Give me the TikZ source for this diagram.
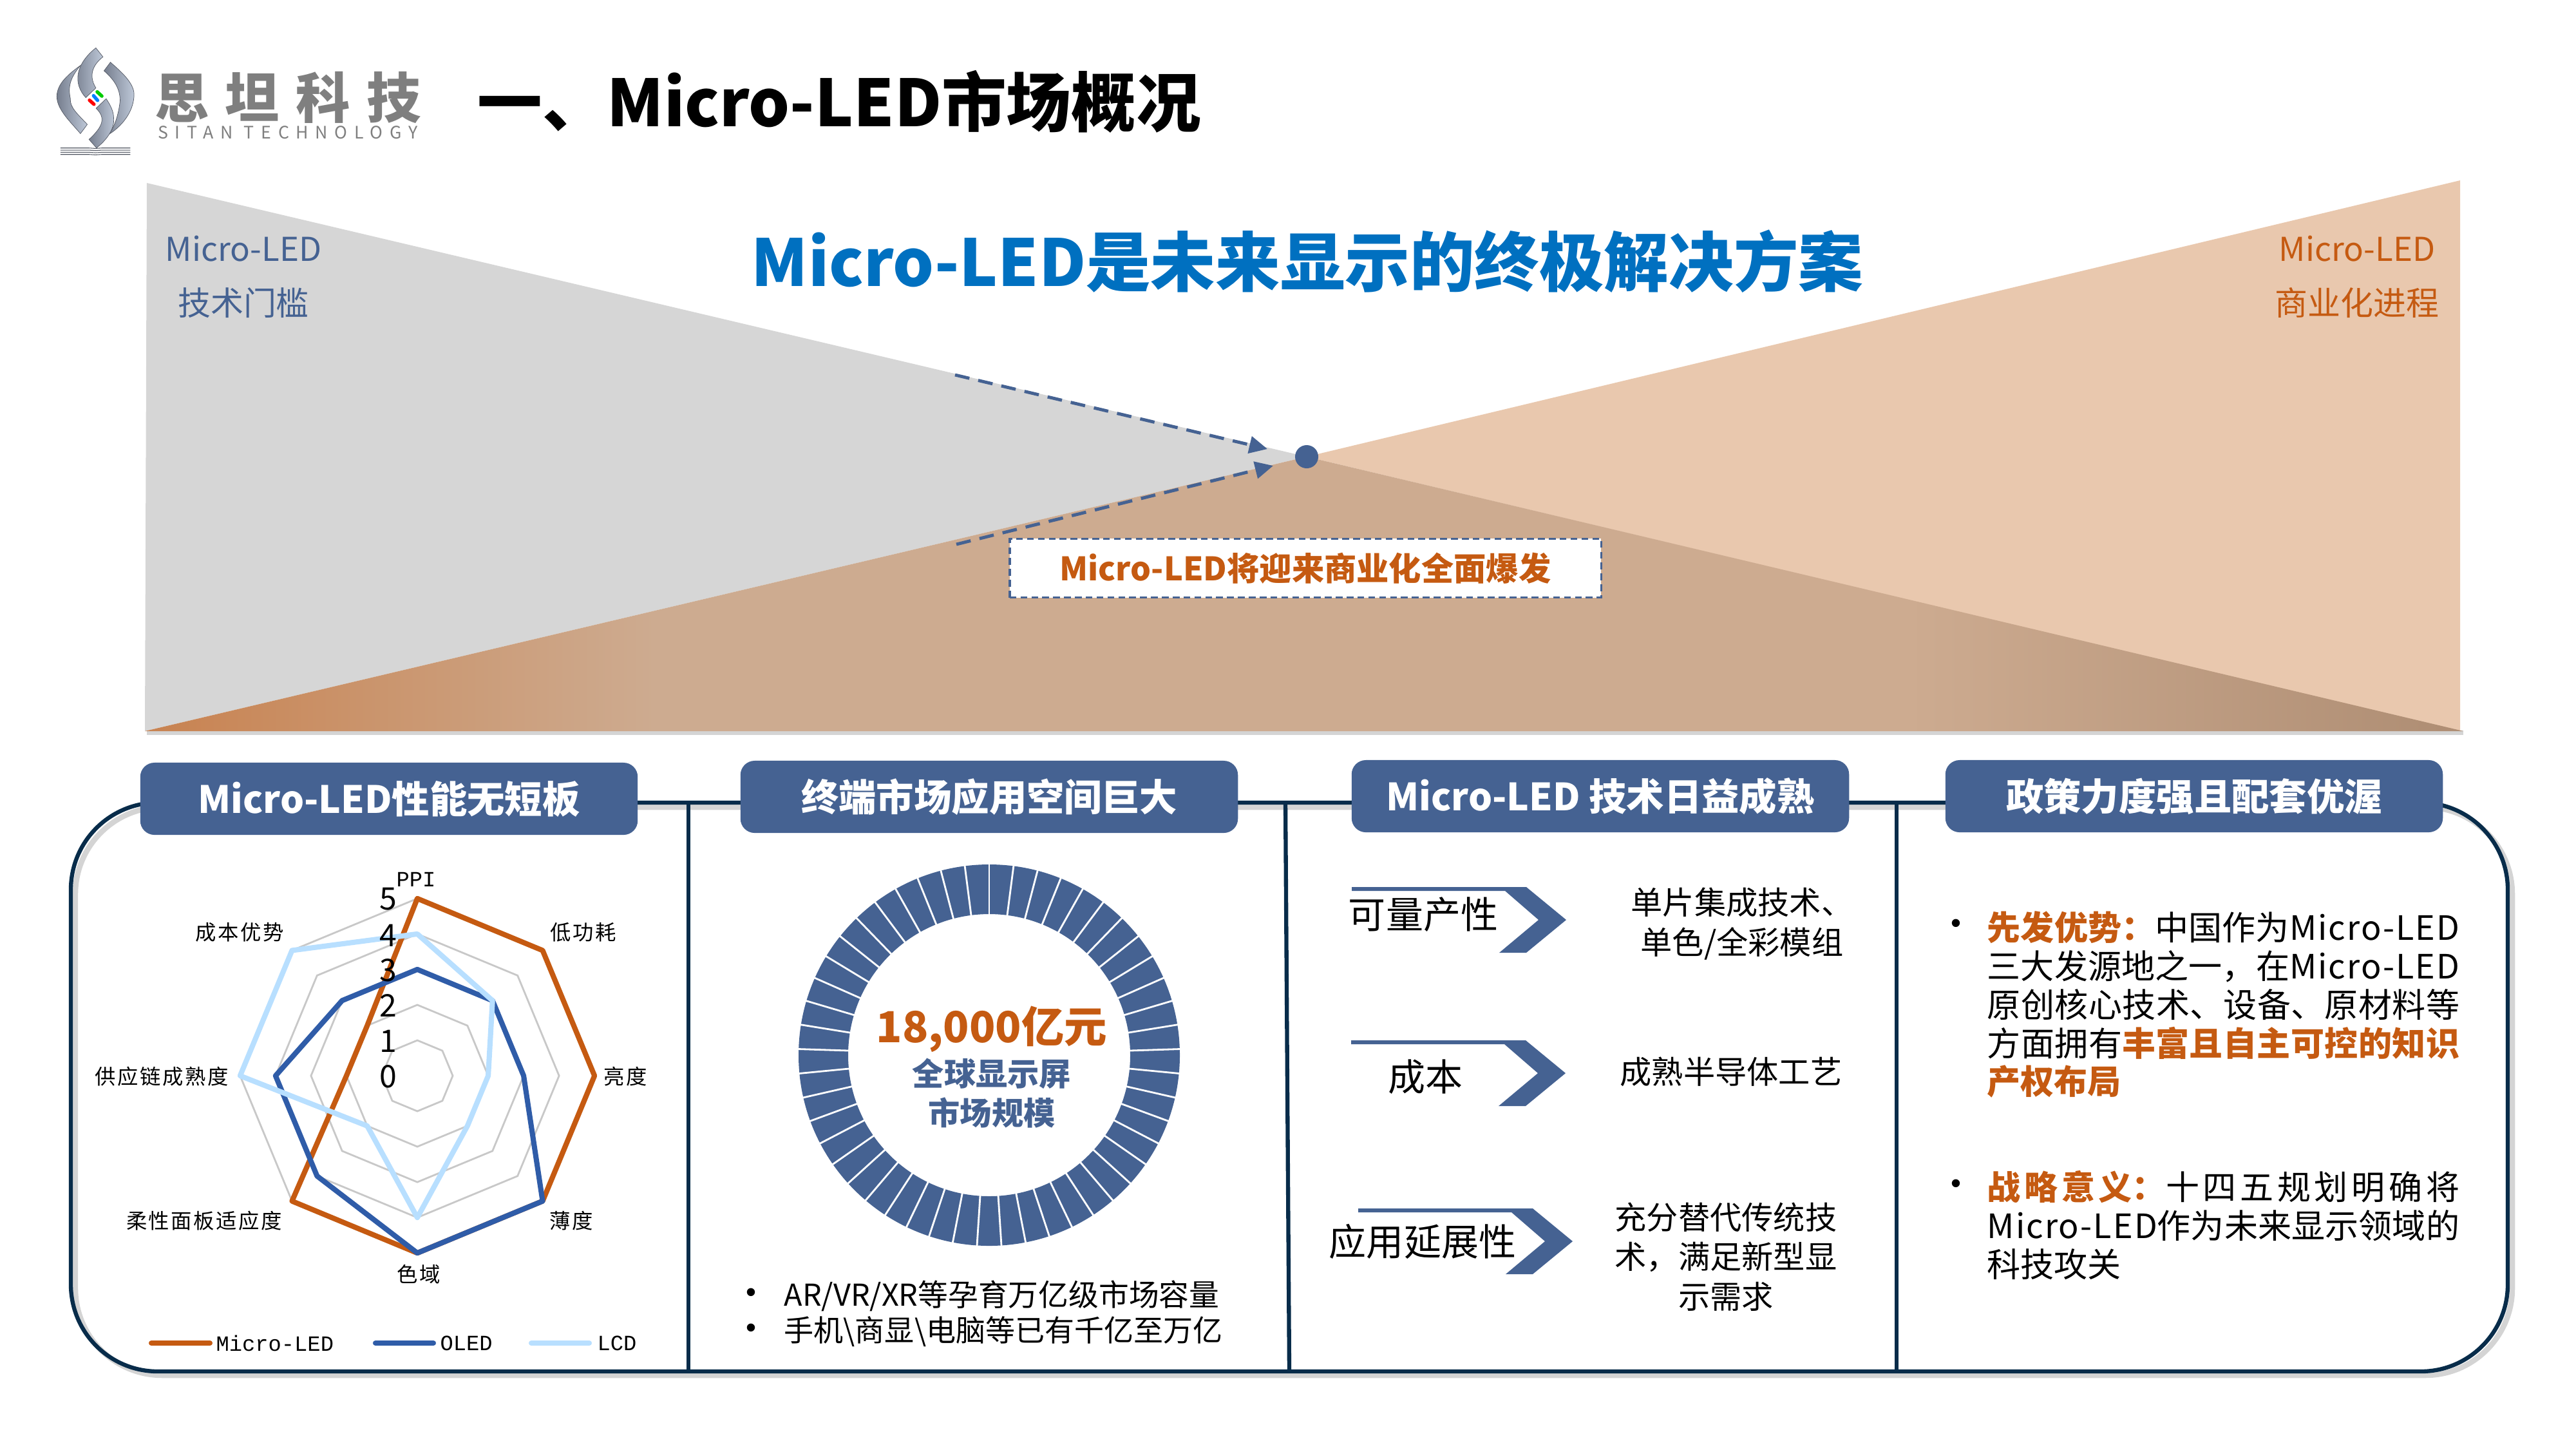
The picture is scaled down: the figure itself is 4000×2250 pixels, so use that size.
\documentclass[tikz,border=0pt]{standalone}
\usepackage{fontspec}
\usepackage{tikz}
\usetikzlibrary{arrows.meta}
\setmainfont{Noto Sans CJK SC}
\newfontfamily\legendfont{Liberation Mono}
\newfontfamily\dotfont{Liberation Sans}
\definecolor{colorhead}  {RGB}{69 ,98 ,146}
\definecolor{colorframe} {RGB}{8  ,44 ,74 }
\definecolor{colorshadow}{RGB}{212,212,212}
\definecolor{colororange}{RGB}{197,90 ,17 }
\definecolor{colorblue}  {RGB}{0  ,112,192}
\definecolor{coloroled}  {RGB}{47 ,92 ,168}
\definecolor{colorlcd}   {RGB}{184,223,255}
\definecolor{colorgrid}  {RGB}{200,200,200}
\definecolor{colorgray}  {RGB}{214,214,214}
\definecolor{colorpeach} {RGB}{233,200,174}
\definecolor{colorlogo}  {RGB}{127,127,127}
\definecolor{ribbonlight}{RGB}{190,200,216}
\definecolor{ribbondark} {RGB}{118,126,142}
\definecolor{basea}{RGB}{200,130,80}
\definecolor{baseb}{RGB}{205,171,144}
\definecolor{basec}{RGB}{174,141,115}
\pgfdeclarehorizontalshading{basefade}{100bp}{color(0bp)=(basea); color(25bp)=(basea); color(36bp)=(baseb); color(63bp)=(baseb); color(75bp)=(basec); color(100bp)=(basec)}
\begin{document}
\begin{tikzpicture}[
    x=0.01cm, y=-0.01cm,
    every node/.style={inner sep=0pt},
    headbox/.style={fill=colorhead,rounded corners=0.22cm,minimum width=7.72cm,minimum height=1.12cm,text=white,font={\fontsize{16.6}{20}\selectfont\bfseries}},
    sidetext/.style={font={\fontsize{14.5}{18}\selectfont}},
    radarlabel/.style={font={\fontsize{9.2}{11}\selectfont\addfontfeature{LetterSpace=8}}},
    axisnum/.style={font={\fontsize{13.7}{16}\selectfont}},
    legendtext/.style={anchor=west,font={\legendfont\fontsize{9.6}{12}\selectfont}},
    seriesline/.style={line width=2.3pt,line join=round},
    legendline/.style={line width=2.3pt,line cap=round},
    bullettext/.style={anchor=west,font={\fontsize{13.3}{16}\selectfont}},
    dotmark/.style={font={\dotfont\fontsize{13}{16}\selectfont}},
    chevlabel/.style={font={\fontsize{16.5}{20}\selectfont}},
    chevtext/.style={font={\fontsize{14}{17}\selectfont}},
    policytext/.style={anchor=north west,text width=7.33cm,align=justify,font={\fontsize{14.8}{17}\selectfont}},
    ribbon/.style={left color=ribbondark,right color=ribbonlight,draw=ribbondark!70!black,line width=0.2pt},
    chevron/.pic={\fill[colorhead] (0,0) -- (271,0) -- (333,51) -- (271,102) -- (229,102) -- (290,51) -- (238,6) -- (0,6) -- cycle;},
]
    \useasboundingbox (0,0) rectangle (4000,2250);

    % logo
    \begin{scope}[shift={(70,60)},x=0.00333cm,y=-0.00333cm]
        \shade[ribbon] (165,125) .. controls (110,165) and (55,210) .. (55,270) .. controls (55,330) and (120,390) .. (165,443) -- (197,400) .. controls (150,350) and (115,320) .. (118,280) .. controls (105,220) and (120,180) .. cycle;
        \shade[ribbon] (305,110) -- (275,150) .. controls (320,190) and (350,230) .. (350,290) .. controls (345,340) and (330,400) .. (300,445) .. controls (370,400) and (415,330) .. (415,260) .. controls (415,205) and (350,150) .. cycle;
        \shade[ribbon] (237,43) -- (270,85) .. controls (225,120) and (200,170) .. (237,230) -- (190,275) .. controls (130,210) and (140,120) .. cycle;
        \shade[ribbon] (285,280) -- (238,325) .. controls (285,370) and (270,410) .. (205,470) -- (240,510) .. controls (290,470) and (325,420) .. (320,370) .. controls (320,340) and (305,310) .. cycle;
        \draw[green!80!black,line width=1.5pt,line cap=round] (243,248) -- (265,268);
        \draw[blue!50!cyan,line width=1.5pt,line cap=round] (226,266) -- (245,288);
        \draw[red,line width=1.5pt,line cap=round] (207,287) -- (228,306);
        \foreach \ly in {510,520,530,540} {
            \draw[ribbondark!70!black,line width=0.3pt] (72,\ly) -- (205,\ly) -- (235,\ly+2) -- (265,\ly) -- (398,\ly);
        }
    \end{scope}
    \node[anchor=center,text=colorlogo] (logocn) at (447,151) {\fontsize{24}{26}\selectfont\bfseries\addfontfeature{LetterSpace=30}思坦科技};
    \node[anchor=center,text=colorlogo] (logoen) at (447,206) {\fontsize{7.6}{9}\selectfont\addfontfeature{LetterSpace=40}SITAN TECHNOLOGY};
    \node[anchor=west] (pagetitle) at (741,158) {\fontsize{28.6}{34}\selectfont\bfseries 一、Micro-LED市场概况};

    % triangles
    \fill[colorshadow] (228,1134) rectangle (3825,1141);
    \fill[colorgray] (228,284) -- (2029,709) -- (225,1135) -- cycle;
    \fill[colorpeach] (3820,280) -- (3820,1135) -- (2029,709) -- cycle;
    \shade[shading=basefade] (225,1135) -- (2029,709) -- (3825,1135) -- cycle;
    \node[font={\fontsize{28.6}{34}\selectfont\bfseries},text=colorblue] (maintitle) at (2030,406) {Micro-LED是未来显示的终极解决方案};
    \node[sidetext,text=colorhead] (leftone) at (378,386) {Micro-LED};
    \node[sidetext,text=colorhead] (lefttwo) at (378,470) {技术门槛};
    \node[sidetext,text=colororange] (rightone) at (3660,386) {Micro-LED};
    \node[sidetext,text=colororange] (righttwo) at (3660,470) {商业化进程};
    \node[circle,fill=colorhead,minimum size=0.36cm] (hub) at (2029,709) {};
    \coordinate (grayfrom) at (1483,582);
    \coordinate (grayto) at (1968,697);
    \coordinate (basefrom) at (1485,845);
    \coordinate (baseto) at (1977,723);
    \draw[colorhead,line width=1.4pt,dash pattern=on 6.5pt off 4pt,-{Triangle[length=8pt,width=7.5pt]}] (grayfrom) -- (grayto);
    \draw[colorhead,line width=1.4pt,dash pattern=on 6.5pt off 4pt,-{Triangle[length=8pt,width=7.5pt]}] (basefrom) -- (baseto);
    \node[draw=colorhead,fill=white,line width=1pt,dash pattern=on 3pt off 1.8pt,minimum width=9.18cm,minimum height=0.91cm,text=colororange,font={\fontsize{14.3}{18}\selectfont\bfseries}] (burst) at (2027,882) {Micro-LED将迎来商业化全面爆发};

    % frame
    \draw[colorshadow,line width=2.4pt,rounded corners=1.35cm] (117,1253) rectangle (3901,2135);
    \draw[colorframe,line width=1.8pt,rounded corners=1.35cm] (110,1246) rectangle (3894,2129);
    \draw[colorframe,line width=1.8pt] (1069,1246) -- (1069,2129);
    \draw[colorframe,line width=1.8pt] (1996,1246) -- (2002,2129);
    \draw[colorframe,line width=1.8pt] (2945,1246) -- (2945,2129);
    \node[headbox] (headone) at (604,1240) {Micro-LED性能无短板};
    \node[headbox] (headtwo) at (1536,1237) {终端市场应用空间巨大};
    \node[headbox] (headthree) at (2485,1236) {Micro-LED 技术日益成熟};
    \node[headbox] (headfour) at (3407,1236) {政策力度强且配套优渥};

    % radar
    \begin{scope}[shift={(648,1670)},x=0.55cm,y=-0.55cm]
        \foreach \lvl in {1,...,5} {
            \draw[colorgrid,line width=0.8pt] (-90:\lvl) -- (-45:\lvl) -- (0:\lvl) -- (45:\lvl) -- (90:\lvl) -- (135:\lvl) -- (180:\lvl) -- (-135:\lvl) -- cycle;
        }
        \draw[seriesline,colororange] (-90:5) -- (-45:5) -- (0:5) -- (45:5) -- (90:5) -- (135:5) -- (180:2) -- (-135:2) -- cycle;
        \draw[seriesline,coloroled] (-90:3) -- (-45:3) -- (0:3) -- (45:5) -- (90:5) -- (135:4) -- (180:4) -- (-135:3) -- cycle;
        \draw[seriesline,colorlcd] (-90:4) -- (-45:3) -- (0:2) -- (45:2) -- (90:4) -- (135:2) -- (180:5) -- (-135:5) -- cycle;
    \end{scope}
    \node[axisnum] (numzero) at (603,1671) {0};
    \node[axisnum] (numone) at (603,1616) {1};
    \node[axisnum] (numtwo) at (603,1561) {2};
    \node[axisnum] (numthree) at (603,1506) {3};
    \node[axisnum] (numfour) at (603,1452) {4};
    \node[axisnum] (numfive) at (603,1396) {5};
    \node[font={\legendfont\fontsize{9.6}{12}\selectfont}] (ppi) at (646,1365) {PPI};
    \node[radarlabel] (lowpower) at (906,1447) {低功耗};
    \node[radarlabel] (bright) at (971,1671) {亮度};
    \node[radarlabel] (thin) at (887,1895) {薄度};
    \node[radarlabel] (gamut) at (650,1978) {色域};
    \node[radarlabel] (flex) at (317,1895) {柔性面板适应度};
    \node[radarlabel] (supply) at (251,1671) {供应链成熟度};
    \node[radarlabel] (cost) at (372,1447) {成本优势};
    \draw[legendline,colororange] (235,2085) -- (326,2085);
    \node[legendtext] (legmicro) at (335,2085) {Micro-LED};
    \draw[legendline,coloroled] (583,2085) -- (673,2085);
    \node[legendtext] (legoled) at (683,2085) {OLED};
    \draw[legendline,colorlcd] (825,2085) -- (915,2085);
    \node[legendtext] (leglcd) at (927,2085) {LCD};

    % ring
    \fill[colorhead,even odd rule] (1536,1638) circle (296) circle (219);
    \begin{scope}[shift={(1536,1638)}]
        \foreach \k in {0,...,48} {
            \draw[white,line width=0.8pt] ({\k*7.3469-90}:216) -- ({\k*7.3469-90}:299);
        }
    \end{scope}
    \node[text=colororange,font={\fontsize{18.9}{23}\selectfont\bfseries}] (ringvalue) at (1540,1598) {18,000亿元};
    \node[text=colorhead,font={\fontsize{14}{17}\selectfont\bfseries},align=center] (ringtext) at (1540,1697) {全球显示屏\\[0.6pt]市场规模};
    \node[dotmark] (dotone) at (1166,2011) {•};
    \node[bullettext] (lineone) at (1217,2012) {AR/VR/XR等孕育万亿级市场容量};
    \node[dotmark] (dottwo) at (1166,2066) {•};
    \node[bullettext,font={\fontsize{13.1}{16}\selectfont}] (linetwo) at (1217,2067) {手机\textbackslash 商显\textbackslash 电脑等已有千亿至万亿};

    % chevrons
    \pic at (2099,1377) {chevron};
    \pic at (2098,1615) {chevron};
    \pic at (2109,1876) {chevron};
    \node[chevlabel] (maker) at (2210,1420) {可量产性};
    \node[chevlabel] (makecost) at (2213,1672) {成本};
    \node[chevlabel] (makeuse) at (2209,1927) {应用延展性};
    \node[chevtext,align=center] (maketextone) at (2705,1434) {单片集成技术、\\[0.5pt]单色/全彩模组};
    \node[chevtext] (maketexttwo) at (2688,1664) {成熟半导体工艺};
    \node[chevtext,align=center] (maketextthree) at (2680,1951) {充分替代传统技\\[0.5pt]术，满足新型显\\[0.5pt]示需求};

    % policy
    \node[dotmark] (dotfirst) at (3037,1438) {•};
    \node[dotmark] (dotsecond) at (3037,1842) {•};
    \node[policytext] (policyone) at (3085,1414) {\XeTeXlinebreaklocale "zh"\XeTeXlinebreakskip=0pt plus 2pt\baselineskip=17pt
        {\bfseries\color{colororange}先发优势：}中国作为{\addfontfeature{LetterSpace=4}Micro-LED}\linebreak
        三大发源地之一，在{\addfontfeature{LetterSpace=4}Micro-LED}\linebreak
        原创核心技术、设备、原材料等\linebreak
        方面拥有{\bfseries\color{colororange}丰富且自主可控的知识}\linebreak
        {\bfseries\color{colororange}产权布局}\par};
    \node[policytext] (policytwo) at (3085,1817) {\XeTeXlinebreaklocale "zh"\XeTeXlinebreakskip=0pt plus 4pt\baselineskip=17pt
        {\bfseries\color{colororange}战略意义：}十四五规划明确将\linebreak
        {\addfontfeature{LetterSpace=4}Micro-LED}作为未来显示领域的\linebreak
        科技攻关\par};
\end{tikzpicture}
\end{document}
